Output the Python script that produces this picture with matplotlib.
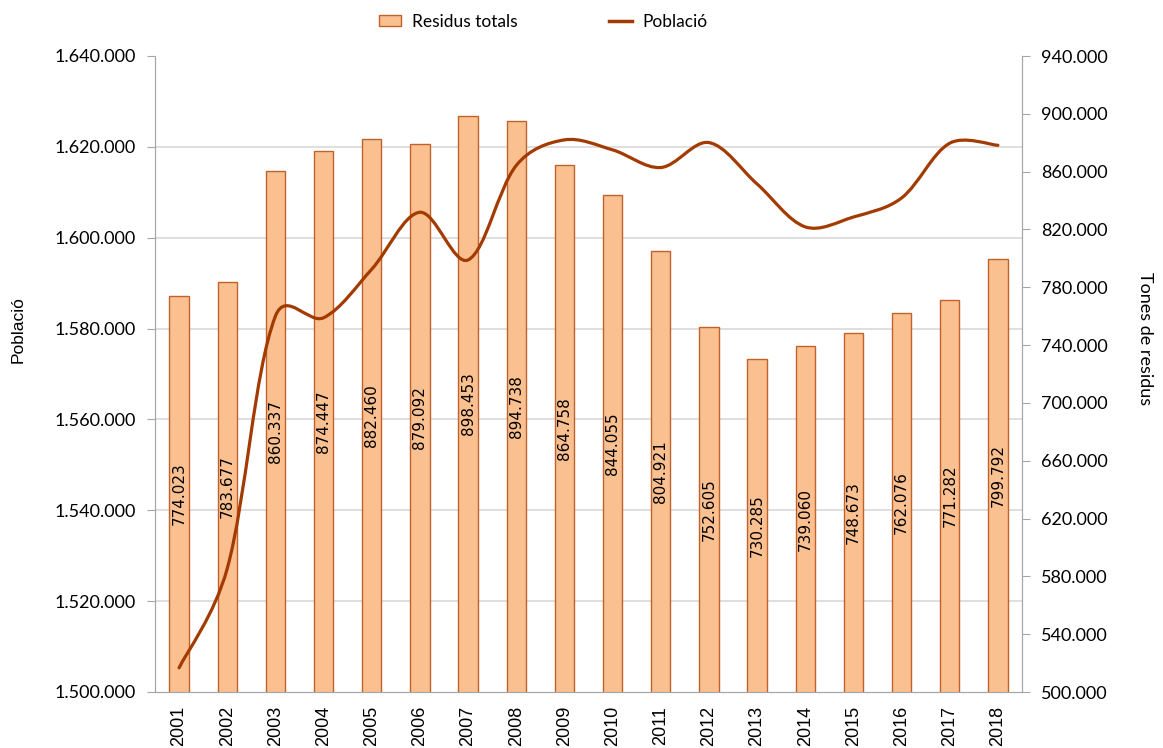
import numpy as np
import matplotlib.pyplot as plt
from matplotlib.path import Path
from matplotlib.patches import PathPatch
from matplotlib.lines import Line2D
from matplotlib.patches import Patch
from matplotlib.ticker import FuncFormatter

years = [str(y) for y in range(2001, 2019)]
residus = [774023, 783677, 860337, 874447, 882460, 879092, 898453, 894738, 864758,
           844055, 804921, 752605, 730285, 739060, 748673, 762076, 771282, 799792]
poblacio = [1505325, 1527190, 1582738, 1582380, 1593075, 1605602, 1595110, 1615908,
            1621537, 1619337, 1615448, 1620943, 1611822, 1602386, 1604555, 1608746,
            1620809, 1620343]

BAR_FILL = '#FAC090'
BAR_EDGE = '#C0622A'
LINE_COL = '#A33A00'
GRID_COL = '#D9D9D9'
SPINE_COL = '#A6A6A6'


def dots(v, pos=None):
    return '{:,}'.format(int(round(v))).replace(',', '.')


def smooth_path(xs, ys, sx, sy, mix=0.5):
    """ Smoothed line as cubic bezier, tangents partly weighted by screen segment length """
    pts = np.column_stack([xs, ys]).astype(float)
    scr = pts * np.array([sx, sy])
    n = len(pts)
    d = np.hypot(*np.diff(scr, axis=0).T)
    tang = []
    for i in range(n):
        a = pts[i - 1] if i > 0 else pts[i]
        b = pts[i + 1] if i + 1 < n else pts[i]
        tang.append(b - a)
    verts = [pts[0]]
    codes = [Path.MOVETO]
    for i in range(n - 1):
        dl = d[i - 1] if i > 0 else d[i]
        dr = d[i + 1] if i + 1 < n - 1 else d[i]
        w1 = mix * d[i] / (dl + d[i]) + (1 - mix) * 0.5
        w2 = mix * d[i] / (d[i] + dr) + (1 - mix) * 0.5
        c1 = pts[i] + tang[i] * w1 / 3.0
        c2 = pts[i + 1] - tang[i + 1] * w2 / 3.0
        verts += [c1, c2, pts[i + 1]]
        codes += [Path.CURVE4] * 3
    return Path(verts, codes)


fig = plt.figure(figsize=(11.63, 7.48), dpi=100)
ax = fig.add_axes([155 / 1163, 56 / 748, 867 / 1163, 636 / 748])
ax2 = ax.twinx()

r_lo, r_hi = 500000, 940000
p_lo, p_hi = 1500000, 1640000
x = np.arange(len(years))

# bars (right axis)
ax.bar(x, residus, width=0.4, color=BAR_FILL, edgecolor=BAR_EDGE, linewidth=1.0, zorder=2)
ax.set_ylim(r_lo, r_hi)
ax.set_xlim(-0.5, len(years) - 0.5)
ax.yaxis.tick_right()
ax.set_yticks(np.arange(r_lo, r_hi + 1, 40000))
ax.yaxis.set_major_formatter(FuncFormatter(dots))

# gridlines at the population ticks, drawn behind the bars
p_ticks = np.arange(p_lo, p_hi + 1, 20000)
grid_pos = r_lo + (p_ticks - p_lo) * (r_hi - r_lo) / (p_hi - p_lo)
ax.set_yticks(grid_pos, minor=True)
ax.yaxis.grid(True, which='minor', color=GRID_COL, linewidth=1.2, zorder=0)
ax.tick_params(axis='y', which='minor', length=0)
ax.set_axisbelow(True)

for xi, v in zip(x, residus):
    ax.text(xi, (v + r_lo) / 2, dots(v), rotation=90, ha='center', va='center',
            fontsize=11, family='DejaVu Sans', color='black', zorder=3)

# line (left axis)
px_x = 867 / len(years)
px_y = 636 / (p_hi - p_lo)
ax2.add_patch(PathPatch(smooth_path(x, poblacio, px_x, px_y), facecolor='none',
                        edgecolor=LINE_COL, linewidth=2.3, capstyle='round', zorder=4))
ax2.set_ylim(p_lo, p_hi)
ax2.yaxis.tick_left()
ax2.set_yticks(p_ticks)
ax2.yaxis.set_major_formatter(FuncFormatter(dots))

ax.set_xticks(x)
ax.set_xticklabels(years, rotation=90, fontsize=13, family='Liberation Sans')
ax.tick_params(axis='x', length=0, pad=10)

for a in (ax, ax2):
    a.tick_params(axis='y', which='major', length=6, color=SPINE_COL, labelsize=13, pad=8)
    for lbl in a.get_yticklabels():
        lbl.set_family('Lato')
    for s in a.spines.values():
        s.set_color(SPINE_COL)
    a.spines['top'].set_visible(False)

fig.text(18 / 1163, 1 - 330 / 748, 'Població', rotation=90, ha='center', va='center',
         fontsize=12.5, family='Liberation Sans')
fig.text(1145 / 1163, 1 - 339 / 748, 'Tones de residus', rotation=270, ha='center',
         va='center', fontsize=13, family='Lato')

handles = [Patch(facecolor=BAR_FILL, edgecolor=BAR_EDGE, label='Residus totals'),
           Line2D([0], [0], color=LINE_COL, linewidth=2.5, label='Població')]
fig.legend(handles=handles, loc='center', bbox_to_anchor=(543 / 1163, 1 - 22 / 748),
           ncol=2, frameon=False, prop={'family': 'Lato', 'size': 12.5},
           columnspacing=5.3, handlelength=1.3, handleheight=0.6, handletextpad=0.6)

fig.savefig('out.png', dpi=100)
